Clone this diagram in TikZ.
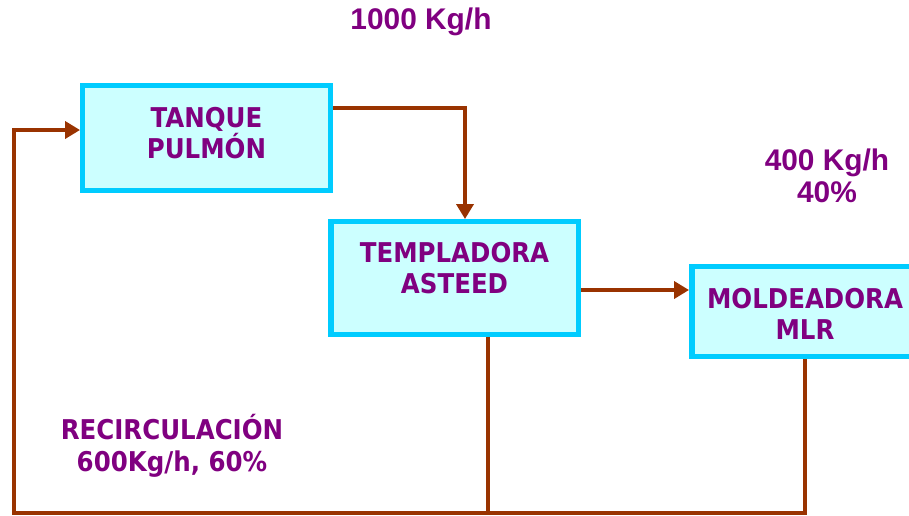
\documentclass[tikz,border=0pt]{standalone}
\usepackage{fontspec}
\setmainfont{Liberation Sans}
\newfontfamily\angosta{DejaVu Sans Condensed}
\usetikzlibrary{arrows.meta}
\definecolor{borde}{RGB}{0,204,255}
\definecolor{relleno}{RGB}{204,255,255}
\definecolor{morado}{RGB}{128,0,128}
\definecolor{cafe}{RGB}{153,51,0}
\tikzset{
  equipo/.style={draw=borde, fill=relleno, line width=3.1pt, inner sep=0pt},
  flujo/.style={draw=cafe, line width=2.3pt},
  flecha/.style={flujo, -{Triangle[length=8.5pt,width=9.6pt]}},
  txt/.style={text=morado, align=center, font=\angosta\bfseries\fontsize{15.5}{18}\selectfont},
  dato/.style={text=morado, align=center, font=\bfseries\fontsize{17}{18}\selectfont}
}
\begin{document}
\begin{tikzpicture}[x=0.02cm,y=-0.02cm]
\useasboundingbox (0,0) rectangle (909,515);
\clip (0,0) rectangle (909,515);
% equipos
\node[equipo, minimum width=4.95cm, minimum height=2.09cm] (tanque) at (206.5,138) {};
\node[equipo, minimum width=4.95cm, minimum height=2.25cm] (templ) at (454.5,278) {};
\node[equipo, minimum width=4.53cm, minimum height=1.79cm] (molde) at (805,311.5) {};
\node[txt, yshift=0.1cm] (tanque-txt) at (tanque) {TANQUE\\PULMÓN};
\node[txt, yshift=0.2cm] (templ-txt) at (templ) {TEMPLADORA\\ASTEED};
\node[txt, yshift=-0.05cm] (molde-txt) at (molde) {MOLDEADORA\\MLR};
% datos
\node[dato] (entrada) at (421,22) {1000 Kg/h};
\node[dato] (salida) at (827,176) {400 Kg/h\\40\%};
\node[txt] (recirc) at (172,446) {RECIRCULACIÓN\\600Kg/h, 60\%};
% flujos
\coordinate (t1) at ([yshift=0.6cm]tanque.east);
\coordinate (t2) at ([xshift=0.21cm]templ.north);
\coordinate (t3) at ([yshift=-0.24cm]templ.east);
\coordinate (t4) at ([xshift=0.67cm]templ.south);
\coordinate (esq) at (14,513);
\draw[flecha] (t1) -| (t2);
\draw[flecha] (t3) -- (t3 -| molde.west);
\draw[flujo] (t4) -- (t4 |- esq);
\draw[flecha] (molde.south) |- (esq) |- ([yshift=0.16cm]tanque.west);
\end{tikzpicture}
\end{document}
